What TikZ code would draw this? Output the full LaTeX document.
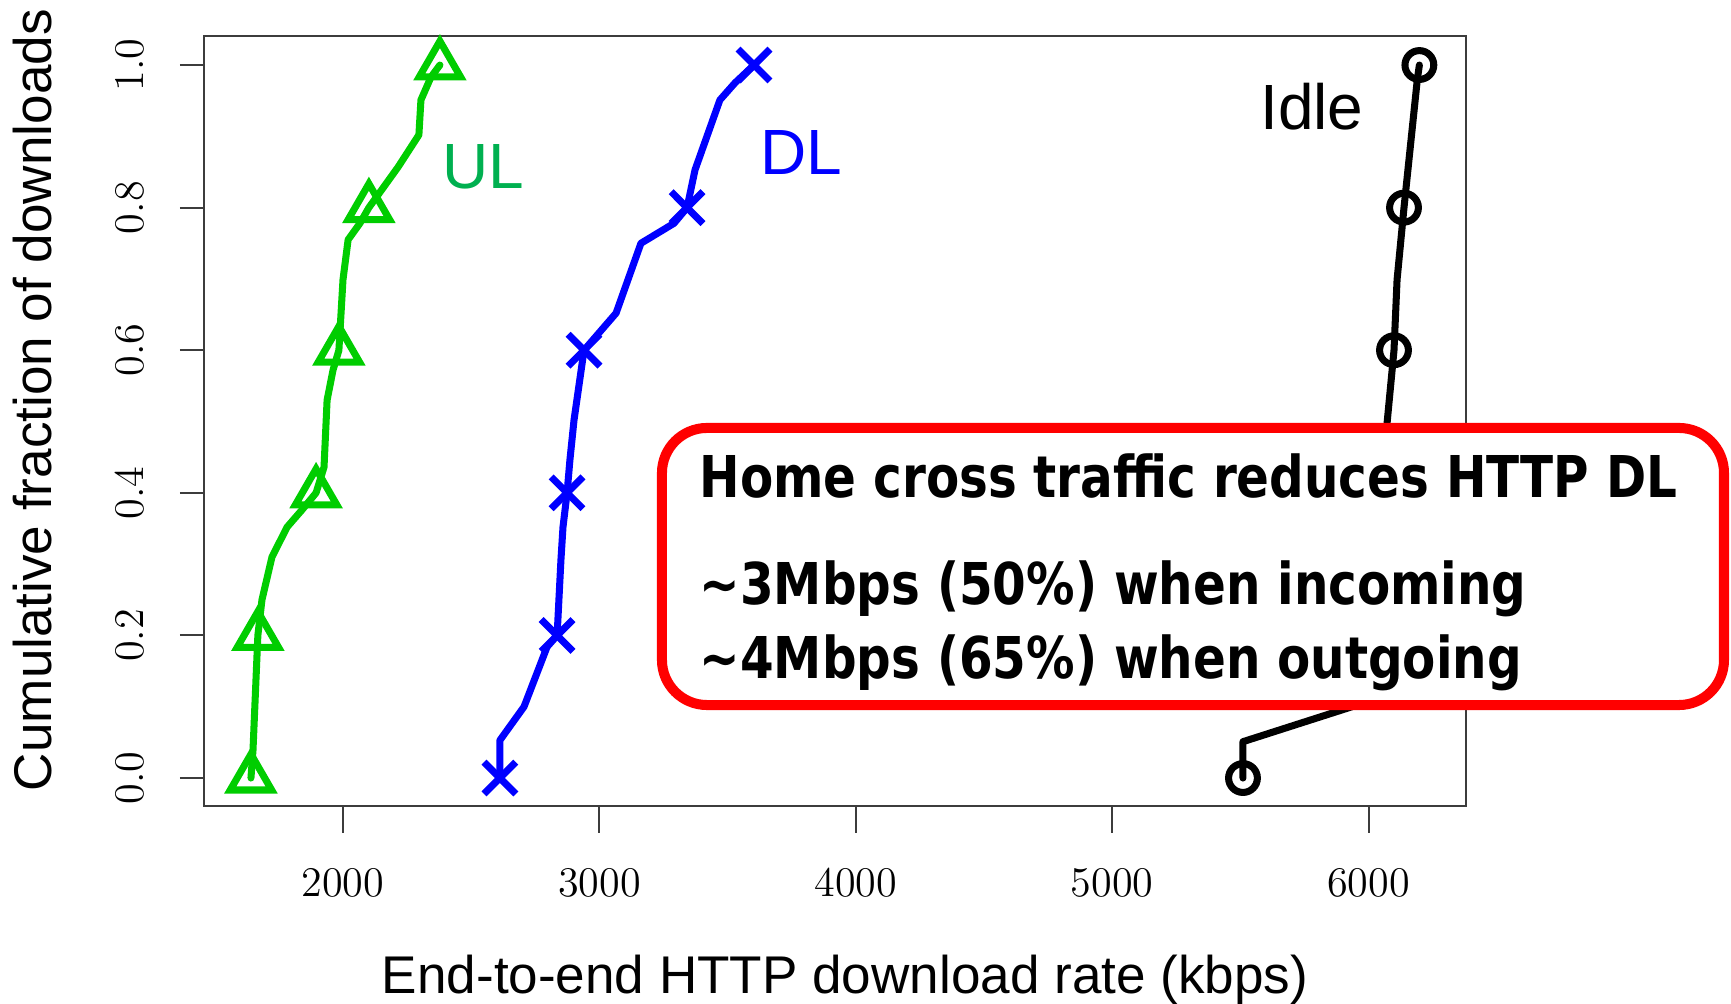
\documentclass[tikz,border=0pt]{standalone}
\usepackage{fontspec}
\usetikzlibrary{plotmarks}
\newfontfamily\arialfont{Liberation Sans}
\newfontfamily\boxfont[FakeStretch=0.84]{DejaVu Sans}
\definecolor{ULGreen}{RGB}{0,205,0}
\definecolor{ULText}{RGB}{0,176,80}
\definecolor{DLBlue}{RGB}{0,0,255}
\definecolor{AxisGray}{RGB}{60,60,60}

\begin{document}
\begin{tikzpicture}[x=2.564cm,y=7.13cm,
  curve/.style={line width=2pt,line join=round,line cap=round},
  marks/.style={only marks,mark size=#1,mark options={line width=2pt,solid}},
  ticklab/.style={font=\fontsize{12}{12}\selectfont},
  axtitle/.style={font=\arialfont\fontsize{15.1}{16}\selectfont,anchor=base},
  curvelab/.style={font=\arialfont\fontsize{18.2}{19}\selectfont,anchor=base west,inner sep=0pt},
  boxline/.style={font=\boxfont\bfseries\fontsize{16.4}{18}\selectfont,anchor=base west,inner sep=0pt}]
  \useasboundingbox (0.6623,-0.3156) rectangle (7.4134,1.0912);
  % frame and axes
  \draw[AxisGray,line width=0.6pt] (1.458,-0.039) rectangle (6.380,1.041);
  \foreach \v in {0.0,0.2,0.4,0.6,0.8,1.0} {
    \draw[AxisGray,line width=0.6pt] (1.364,\v) -- (1.458,\v);
    \node[ticklab,rotate=90] at (1.169,\v) {\v};
  }
  \foreach \k in {2,...,6} {
    \draw[AxisGray,line width=0.6pt] (\k,-0.039) -- (\k,-0.077);
    \node[ticklab] at (\k,-0.147) {\k000};
  }
  \node[axtitle] (xt) at (3.958,-0.3015) {End-to-end HTTP download rate (kbps)};
  \node[axtitle,rotate=90] (yt) at (0.865,0.530) {Cumulative fraction of downloads};
  % UL
  \draw[curve,ULGreen] plot coordinates {(1.641,0) (1.649,0.039) (1.665,0.175) (1.668,0.2)
    (1.684,0.250) (1.723,0.310) (1.782,0.352) (1.840,0.376) (1.895,0.4) (1.926,0.436)
    (1.938,0.530) (1.961,0.572) (1.984,0.6) (2.000,0.699) (2.020,0.755) (2.066,0.778)
    (2.101,0.8) (2.215,0.857) (2.296,0.902) (2.304,0.951) (2.343,0.983) (2.378,1.0)};
  \draw[ULGreen,marks=6.8pt,mark=triangle] plot coordinates {(1.641,0) (1.668,0.2)
    (1.895,0.4) (1.984,0.6) (2.101,0.8) (2.378,1.0)};
  % DL
  \draw[curve,DLBlue] plot coordinates {(2.612,0) (2.612,0.053) (2.706,0.100) (2.796,0.184)
    (2.835,0.2) (2.850,0.306) (2.858,0.352) (2.874,0.4) (2.885,0.446) (2.901,0.502)
    (2.940,0.6) (3.065,0.652) (3.162,0.750) (3.291,0.778) (3.342,0.8) (3.373,0.853)
    (3.470,0.951) (3.529,0.975) (3.603,1.0)};
  \draw[DLBlue,marks=6.4pt,mark=x] plot coordinates {(2.612,0) (2.835,0.2) (2.874,0.4)
    (2.940,0.6) (3.342,0.8) (3.603,1.0)};
  % Idle
  \draw[curve] plot coordinates {(5.510,0) (5.510,0.051) (5.935,0.100) (6.000,0.2)
    (6.060,0.4) (6.072,0.498) (6.099,0.6) (6.111,0.699) (6.138,0.8) (6.190,0.980) (6.198,1.0)};
  \draw[marks=4.1pt,mark=o] plot coordinates {(5.510,0) (6.000,0.2) (6.060,0.4)
    (6.099,0.6) (6.138,0.8) (6.198,1.0)};
  \node[curvelab,ULText] (ul) at (2.386,0.8275) {UL};
  \node[curvelab,DLBlue] (dl) at (3.626,0.847) {DL};
  \node[curvelab] (idle) at (5.575,0.909) {Idle};
  % callout
  \draw[red,line width=2.85pt,fill=white,rounded corners=0.45cm] (3.244,0.1024) rectangle (7.386,0.491);
  \node[boxline] (head) at (3.388,0.394) {Home cross traffic reduces HTTP DL};
  \node[boxline] (inc) at (3.388,0.244) {\textasciitilde3Mbps (50\%) when incoming};
  \node[boxline] (out) at (3.388,0.139) {\textasciitilde4Mbps (65\%) when outgoing};
\end{tikzpicture}
\end{document}
